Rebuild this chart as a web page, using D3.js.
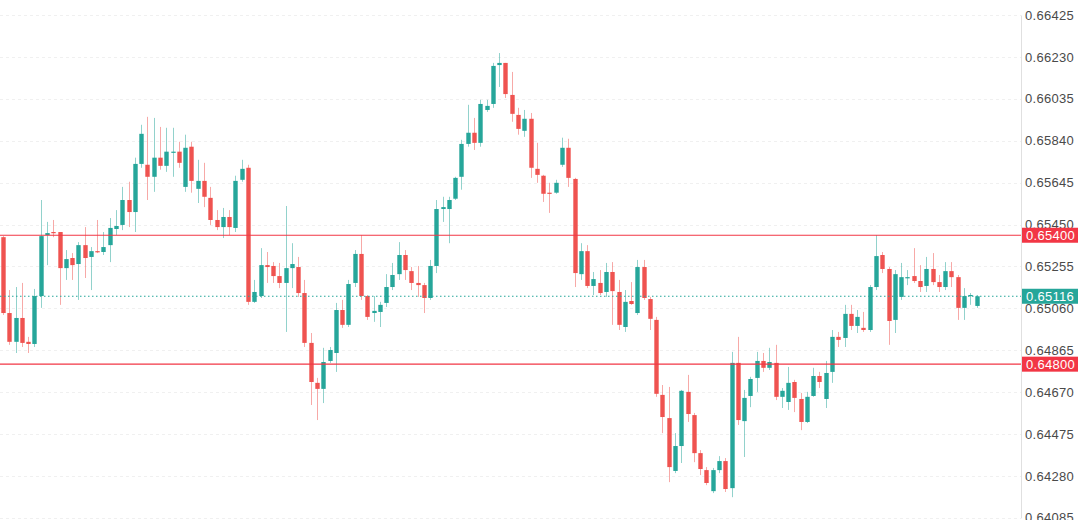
<!DOCTYPE html>
<html>
<head>
<meta charset="utf-8">
<script src="https://cdn.jsdelivr.net/npm/d3@7/dist/d3.min.js"></script>
<style>
  html, body { margin: 0; padding: 0; background: #ffffff; }
  svg { display: block; }
</style>
</head>
<body>
<svg id="chart" width="1080" height="520"></svg>
<script>
// ---- data ----
const open = [0.65391,0.65038,0.64904,0.65015,0.64904,0.64894,0.65117,0.65401,0.65415,0.65415,
0.65247,0.65294,0.65266,0.65354,0.65299,0.65326,0.65322,0.65354,0.65429,0.65448,
0.65564,0.65508,0.65732,0.65728,0.65672,0.65761,0.65723,0.65784,0.65789,0.65625,
0.65812,0.65616,0.65653,0.65574,0.65471,0.65438,0.65485,0.65434,0.65658,0.65714,
0.65090,0.65117,0.65261,0.65257,0.65210,0.65178,0.65247,0.65252,0.65131,0.64899,
0.64713,0.64685,0.64815,0.64852,0.65052,0.64983,0.65178,0.65313,0.65117,0.65038,
0.65043,0.65085,0.65159,0.65219,0.65308,0.65233,0.65178,0.65168,0.65108,0.65257,
0.65522,0.65522,0.65570,0.65672,0.65825,0.65877,0.65830,0.65983,0.66011,0.66192,
0.66202,0.66053,0.65960,0.65886,0.65942,0.65709,0.65677,0.65598,0.65598,0.65728,
0.65807,0.65662,0.65219,0.65326,0.65164,0.65178,0.65136,0.65229,0.65136,0.64973,
0.65094,0.65038,0.65252,0.65103,0.65006,0.64657,0.64549,0.64303,0.64419,0.64671,
0.64563,0.64386,0.64307,0.64209,0.64307,0.64349,0.64223,0.64806,0.64535,0.64652,
0.64736,0.64815,0.64783,0.64806,0.64648,0.64624,0.64717,0.64638,0.64531,0.64652,
0.64745,0.64638,0.64764,0.64927,0.64922,0.65034,0.64978,0.64969,0.64959,0.65159,
0.65308,0.65243,0.65006,0.65113,0.65201,0.65210,0.65187,0.65164,0.65243,0.65182,
0.65159,0.65233,0.65205,0.65062,0.65117,0.65071];

const high = [0.65396,0.65145,0.65159,0.65178,0.64927,0.65150,0.65564,0.65462,0.65471,0.65415,
0.65331,0.65317,0.65368,0.65438,0.65345,0.65471,0.65415,0.65480,0.65517,0.65625,
0.65649,0.65761,0.65914,0.65951,0.65946,0.65904,0.65900,0.65900,0.65835,0.65868,
0.65835,0.65751,0.65737,0.65625,0.65517,0.65527,0.65517,0.65677,0.65751,0.65728,
0.65192,0.65340,0.65322,0.65275,0.65271,0.65536,0.65363,0.65299,0.65192,0.64945,
0.64736,0.64876,0.64880,0.65085,0.65099,0.65192,0.65331,0.65401,0.65122,0.65117,
0.65090,0.65219,0.65271,0.65368,0.65331,0.65252,0.65257,0.65178,0.65285,0.65564,
0.65579,0.65579,0.65672,0.65844,0.66007,0.65946,0.66030,0.66030,0.66202,0.66248,
0.66202,0.66160,0.65993,0.65983,0.65969,0.65830,0.65681,0.65644,0.65658,0.65854,
0.65849,0.65667,0.65363,0.65354,0.65229,0.65238,0.65271,0.65275,0.65192,0.65145,
0.65182,0.65285,0.65285,0.65113,0.65020,0.64703,0.64694,0.64479,0.64680,0.64750,
0.64573,0.64400,0.64321,0.64317,0.64372,0.64363,0.64857,0.64927,0.64680,0.64741,
0.64857,0.64852,0.64876,0.64890,0.64689,0.64787,0.64727,0.64666,0.64671,0.64783,
0.64764,0.64815,0.64959,0.64950,0.65076,0.65076,0.65052,0.65043,0.65168,0.65401,
0.65322,0.65252,0.65238,0.65271,0.65238,0.65340,0.65261,0.65299,0.65317,0.65215,
0.65275,0.65275,0.65215,0.65154,0.65131,0.65122];

const low = [0.65029,0.64890,0.64852,0.64880,0.64852,0.64880,0.65062,0.65261,0.65391,0.65076,
0.65192,0.65192,0.65099,0.65201,0.65145,0.65317,0.65308,0.65275,0.65401,0.65424,
0.65438,0.65415,0.65714,0.65564,0.65602,0.65705,0.65695,0.65672,0.65714,0.65602,
0.65598,0.65550,0.65531,0.65448,0.65424,0.65387,0.65401,0.65415,0.65649,0.65076,
0.65085,0.65108,0.65178,0.65178,0.65154,0.64950,0.65154,0.65113,0.64880,0.64610,
0.64540,0.64619,0.64806,0.64764,0.64969,0.64973,0.65159,0.65099,0.65006,0.64997,
0.64973,0.65066,0.65145,0.65192,0.65192,0.65145,0.65113,0.65038,0.65099,0.65224,
0.65462,0.65363,0.65564,0.65612,0.65812,0.65797,0.65812,0.65974,0.65993,0.66090,
0.66039,0.65928,0.65868,0.65858,0.65667,0.65644,0.65555,0.65504,0.65593,0.65718,
0.65625,0.65159,0.65192,0.65154,0.65122,0.65122,0.65113,0.64983,0.64959,0.64950,
0.65076,0.65029,0.65099,0.64959,0.64648,0.64479,0.64251,0.64293,0.64340,0.64531,
0.64344,0.64284,0.64237,0.64200,0.64293,0.64205,0.64181,0.64517,0.64368,0.64600,
0.64671,0.64764,0.64773,0.64633,0.64596,0.64587,0.64577,0.64493,0.64526,0.64648,
0.64689,0.64596,0.64713,0.64880,0.64880,0.64959,0.64945,0.64950,0.64950,0.65145,
0.65224,0.64890,0.64945,0.65099,0.65168,0.65178,0.65136,0.65136,0.65168,0.65136,
0.65145,0.65159,0.65006,0.65006,0.65076,0.65062];

const close = [0.65038,0.64904,0.65015,0.64899,0.64894,0.65117,0.65396,0.65410,0.65410,0.65247,
0.65289,0.65261,0.65354,0.65294,0.65326,0.65322,0.65345,0.65434,0.65443,0.65564,
0.65508,0.65732,0.65872,0.65672,0.65761,0.65723,0.65789,0.65789,0.65737,0.65807,
0.65653,0.65653,0.65579,0.65471,0.65438,0.65485,0.65438,0.65653,0.65709,0.65090,
0.65136,0.65261,0.65252,0.65210,0.65178,0.65247,0.65266,0.65131,0.64899,0.64717,
0.64685,0.64810,0.64866,0.65052,0.64983,0.65173,0.65313,0.65117,0.65020,0.65048,
0.65076,0.65159,0.65215,0.65308,0.65238,0.65178,0.65168,0.65108,0.65257,0.65522,
0.65531,0.65564,0.65667,0.65825,0.65877,0.65830,0.66011,0.66002,0.66188,0.66202,
0.66057,0.65965,0.65895,0.65942,0.65714,0.65681,0.65593,0.65593,0.65644,0.65807,
0.65667,0.65224,0.65326,0.65164,0.65196,0.65131,0.65229,0.65140,0.64983,0.65090,
0.65080,0.65252,0.65108,0.65011,0.64662,0.64554,0.64321,0.64419,0.64676,0.64568,
0.64386,0.64312,0.64247,0.64307,0.64349,0.64219,0.64806,0.64540,0.64643,0.64731,
0.64815,0.64783,0.64810,0.64648,0.64676,0.64713,0.64643,0.64531,0.64648,0.64745,
0.64717,0.64759,0.64927,0.64913,0.65034,0.64978,0.65020,0.64959,0.65159,0.65303,
0.65243,0.65001,0.65219,0.65205,0.65205,0.65187,0.65159,0.65243,0.65182,0.65159,
0.65233,0.65205,0.65062,0.65117,0.65122,0.65116];

const tickLabels = ["0.66425","0.66230","0.66035","0.65840","0.65645","0.65450","0.65255",
                    "0.65060","0.64865","0.64670","0.64475","0.64280","0.64085"];
const levelLines = [0.65400, 0.64800];
const lastPrice = 0.65116;

// ---- layout ----
const W = 1080, H = 520;
const axisX = 1021;
const UP = "#26a69a", DOWN = "#ef5350", LEVEL = "#f23645";

const svg = d3.select("#chart");
const bars = d3.range(open.length);

const x = d3.scaleLinear().domain([0, bars.length - 1]).range([3, 976.5]);
const y = d3.scaleLinear().domain([0.64085, 0.66425]).range([517.8, 15]);
const bodyW = 4.4;

// grid
const tickVals = tickLabels.map(Number);
svg.append("g").selectAll("line").data(tickVals).join("line")
  .attr("x1", 0).attr("x2", axisX)
  .attr("y1", d => Math.round(y(d)) + 0.5).attr("y2", d => Math.round(y(d)) + 0.5)
  .attr("stroke", "#f0f0f0").attr("stroke-dasharray", "3,3");

// candles
const g = svg.append("g");
const cand = g.selectAll("g.c").data(bars).join("g").attr("class", "c");
cand.append("line")
  .attr("x1", i => Math.round(x(i)) + 0.5).attr("x2", i => Math.round(x(i)) + 0.5)
  .attr("y1", i => y(high[i])).attr("y2", i => y(low[i]))
  .attr("stroke", i => close[i] >= open[i] ? UP : DOWN)
  .attr("stroke-opacity", 0.5).attr("stroke-width", 1);
cand.append("rect")
  .attr("x", i => Math.round(x(i)) + 0.5 - bodyW / 2)
  .attr("width", bodyW)
  .attr("y", i => y(Math.max(open[i], close[i])))
  .attr("height", i => Math.max(1.2, Math.abs(y(open[i]) - y(close[i]))))
  .attr("fill", i => close[i] >= open[i] ? UP : DOWN);

// level lines
svg.append("g").selectAll("line").data(levelLines).join("line")
  .attr("x1", 0).attr("x2", axisX)
  .attr("y1", d => y(d)).attr("y2", d => y(d))
  .attr("stroke", LEVEL).attr("stroke-width", 1.2);

// last price dotted line
svg.append("line")
  .attr("x1", 0).attr("x2", axisX)
  .attr("y1", y(lastPrice)).attr("y2", y(lastPrice))
  .attr("stroke", UP).attr("stroke-width", 1.1).attr("stroke-dasharray", "1.5,2.5");

// right axis
const axis = d3.axisRight(y).tickValues(tickVals).tickSize(0).tickPadding(4)
  .tickFormat((d, i) => tickLabels[i]);
const ax = svg.append("g").attr("transform", `translate(${axisX},0)`).call(axis);
ax.select(".domain").attr("stroke", "#e0e0e0");
ax.selectAll("text").attr("fill", "#4a4a4a")
  .style("font-family", "'Liberation Sans', Arial, sans-serif")
  .style("font-size", "13px").style("letter-spacing", "0.3px");

// price labels
const labels = levelLines.map(v => ({ v, c: LEVEL })).concat([{ v: lastPrice, c: UP }]);
const lab = svg.append("g").selectAll("g").data(labels).join("g")
  .attr("transform", d => `translate(${axisX + 1},${y(d.v)})`);
lab.append("rect").attr("x", 0).attr("y", -7.5).attr("width", 56).attr("height", 15)
  .attr("fill", d => d.c);
lab.append("text").attr("x", 4).attr("y", 0).attr("dy", "0.36em")
  .attr("fill", "#fff")
  .style("font-family", "'Liberation Sans', Arial, sans-serif")
  .style("font-size", "13px").style("letter-spacing", "0.3px")
  .text(d => d.v.toFixed(5));
</script>
</body>
</html>
